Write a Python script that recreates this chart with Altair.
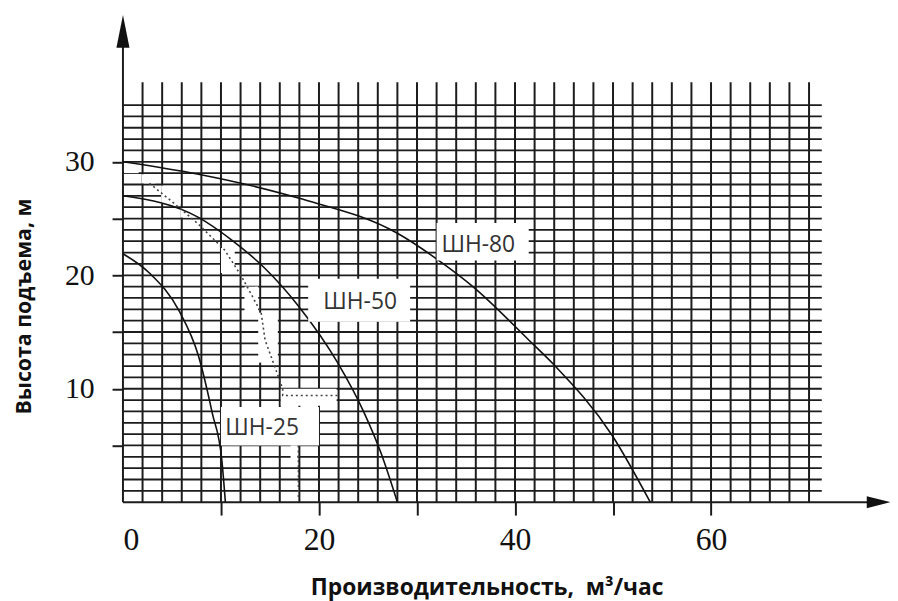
import altair as alt
import pandas as pd

# ---- pump curves (Q, m3/h ; H, m) ----
sh80_q = [0, 7.7, 17.9, 28.0, 32.7, 35.7, 41.4, 44.1, 49.9, 53.8]
sh80_h = [30.0, 28.9, 26.8, 23.7, 21.0, 19.0, 14.3, 12.0, 5.9, 0.0]
sh50_q = [0, 7.7, 11.1, 14.5, 17.9, 21.9, 24.6, 26.3, 28.0]
sh50_h = [27.0, 25.1, 23.1, 20.6, 17.3, 12.3, 7.9, 4.4, 0.0]
sh25_q = [0, 2.7, 5.7, 7.7, 9.1, 10.1, 10.45]
sh25_h = [21.9, 20.2, 16.9, 12.9, 7.9, 3.6, 0.0]

# faint dotted trace
dotA_q = [2.7, 5.0, 7.7, 10.4, 12.1, 14.1, 14.5, 16.3, 16.3, 21.9]
dotA_h = [28.1, 26.5, 24.5, 22.2, 19.9, 16.7, 14.3, 10.0, 9.4, 9.4]
dotB_q = [17.9, 17.9]
dotB_h = [5.0, 0.3]

# erased (white) patches of the scan
patch_q1 = [0.1, 1.9, 3.9, 5.9, 10.0, 12.4, 13.8, 16.1, 17.1]
patch_q2 = [1.6, 3.3, 5.9, 7.4, 11.4, 13.8, 15.8, 21.8, 17.8]
patch_h1 = [29.0, 28.1, 26.3, 25.1, 20.2, 16.7, 12.3, 8.5, 3.2]
patch_h2 = [29.8, 28.9, 27.9, 25.9, 22.4, 19.0, 16.7, 10.0, 5.0]

# curve labels
label_text = ["ШН-80", "ШН-50", "ШН-25"]
label_q = [36.25, 24.2, 14.2]
label_h = [22.7, 17.6, 6.5]
box_q1 = [32.0, 18.9, 10.0]
box_q2 = [41.4, 29.3, 20.0]
box_h1 = [21.3, 15.9, 5.0]
box_h2 = [24.6, 19.7, 8.4]

# grid
vgrid_q = list(range(2, 71, 2))
hgrid_h = list(range(1, 36))
grid_top = 37.0
grid_right = 71.3

x_ticks = [0, 10, 20, 30, 40, 50, 60]
y_ticks = [5, 10, 15, 20, 25, 30]

XMAX = 78.26
YMAX = 42.97
INK = "#1c1c1c"

xs = alt.Scale(domain=[0, XMAX], nice=False, zero=False)
ys = alt.Scale(domain=[0, YMAX], nice=False, zero=False)

x_axis = alt.Axis(
    values=x_ticks,
    labelExpr="datum.value % 20 == 0 ? datum.label : ''",
    tickOpacity={"condition": {"test": "datum.value == 0", "value": 0}, "value": 1},
    domain=False, grid=False, tickSize=13, tickWidth=2, tickColor=INK,
    labelFont="Liberation Serif", labelFontSize=32, labelPadding=10,
    labelColor="#111",
    title="Производительность,\u00a0\u00a0м³/час", titleFont="Open Sans",
    titleFontWeight="bold", titleFontSize=23, titleColor="#111",
    titleX=189, titleY=93, titleAlign="left", titleBaseline="alphabetic",
)
y_axis = alt.Axis(
    values=y_ticks,
    labelExpr="datum.value % 10 == 0 ? datum.label : ''",
    domain=False, grid=False, tickSize=11, tickWidth=2, tickColor=INK,
    labelFont="Liberation Serif", labelFontSize=30, labelPadding=18,
    labelColor="#111",
    title="Высота подъема, м", titleFont="Open Sans", titleFontWeight="bold",
    titleFontSize=21.5, titleColor="#111",
    titleX=-99, titleY=294, titleAngle=270, titleAlign="center",
    titleBaseline="middle",
)


def X(field="q"):
    return alt.X(f"{field}:Q", scale=xs, axis=x_axis)


def Y(field="h"):
    return alt.Y(f"{field}:Q", scale=ys, axis=y_axis)


vgrid = pd.DataFrame({"q": vgrid_q, "h": [0] * len(vgrid_q), "h2": [grid_top] * len(vgrid_q)})
hgrid = pd.DataFrame({"h": hgrid_h, "q": [0] * len(hgrid_h), "q2": [grid_right] * len(hgrid_h)})

vlines = alt.Chart(vgrid).mark_rule(color=INK, strokeWidth=2).encode(
    x=X(), y=Y(), y2="h2:Q")
hlines = alt.Chart(hgrid).mark_rule(color=INK, strokeWidth=1.8).encode(
    y=Y(), x=X(), x2="q2:Q")

patches = alt.Chart(pd.DataFrame({"q": patch_q1, "q2": patch_q2, "h": patch_h1, "h2": patch_h2})).mark_rect(
    color="white", opacity=1).encode(x=X(), x2="q2:Q", y=Y(), y2="h2:Q")

# axes with arrows
yaxis_line = alt.Chart(pd.DataFrame({"q": [0], "h": [0], "h2": [40.5]})).mark_rule(
    color=INK, strokeWidth=2).encode(x=X(), y=Y(), y2="h2:Q")
xaxis_line = alt.Chart(pd.DataFrame({"q": [0], "q2": [77.0], "h": [0]})).mark_rule(
    color=INK, strokeWidth=2).encode(x=X(), x2="q2:Q", y=Y())
up_arrow = alt.Chart(pd.DataFrame({"q": [0], "h": [41.5]})).mark_point(
    shape="M0,-1L0.4,1L-0.4,1Z", filled=True, size=1089, color="#111", opacity=1,
    strokeWidth=0).encode(x=X(), y=Y())
right_arrow = alt.Chart(pd.DataFrame({"q": [77.1], "h": [0]})).mark_point(
    shape="M1,0L-1,-0.5L-1,0.5Z", filled=True, size=576, color="#111", opacity=1,
    strokeWidth=0).encode(x=X(), y=Y())

# curves
curves = pd.concat([
    pd.DataFrame({"q": sh80_q, "h": sh80_h, "s": "ШН-80"}),
    pd.DataFrame({"q": sh50_q, "h": sh50_h, "s": "ШН-50"}),
    pd.DataFrame({"q": sh25_q, "h": sh25_h, "s": "ШН-25"}),
])
curve_lines = alt.Chart(curves).mark_line(
    color="#111", strokeWidth=1.6, interpolate="monotone").encode(
    x=X(), y=Y(), detail="s:N", order="q:Q")

dots = pd.concat([
    pd.DataFrame({"q": dotA_q, "h": dotA_h, "s": "a", "i": range(len(dotA_q))}),
    pd.DataFrame({"q": dotB_q, "h": dotB_h, "s": "b", "i": range(len(dotB_q))}),
])
dot_lines = alt.Chart(dots).mark_line(
    color="#444", strokeWidth=1.6, strokeDash=[2, 3]).encode(
    x=X(), y=Y(), detail="s:N", order="i:Q")

boxes = alt.Chart(pd.DataFrame({"q": box_q1, "q2": box_q2, "h": box_h1, "h2": box_h2})).mark_rect(
    color="white", opacity=1).encode(x=X(), x2="q2:Q", y=Y(), y2="h2:Q")
labels = alt.Chart(pd.DataFrame({"q": label_q, "h": label_h, "t": label_text})).mark_text(
    font="Open Sans", fontSize=23, color="#333", align="center", baseline="middle").encode(
    x=X(), y=Y(), text="t:N")

chart = alt.layer(
    vlines, hlines, patches, yaxis_line, xaxis_line, up_arrow, right_arrow,
    curve_lines, dot_lines, boxes, labels,
).properties(
    width=774, height=492,
    autosize=alt.AutoSizeParams(type="none"),
    padding={"left": 116, "top": 4, "right": 0, "bottom": 97},
    background="white",
).configure_view(stroke=None)

chart.save("out.html", embed_options={"renderer": "svg", "actions": False})
